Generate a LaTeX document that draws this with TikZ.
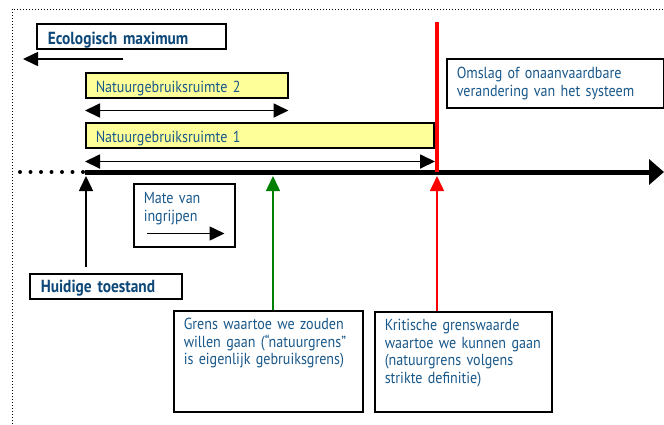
\documentclass[tikz,border=0pt]{standalone}
\usepackage{fontspec}
\setmainfont{PT Sans}[FakeStretch=0.88]
\usetikzlibrary{arrows.meta}

\definecolor{tekstblauw}{RGB}{25,88,138}
\definecolor{donkerblauw}{RGB}{14,72,120}
\definecolor{lichtgeel}{RGB}{255,255,153}
\definecolor{groen}{RGB}{0,128,0}

\tikzset{
  kader/.style={draw, line width=1.5pt, fill=white, anchor=north west,
    align=left, inner ysep=0pt, inner xsep=10pt, text=tekstblauw,
    font=\fontsize{16}{17.5}\selectfont},
  kop/.style={kader, text=donkerblauw, inner xsep=11pt,
    font=\fontsize{17.5}{19}\selectfont\bfseries},
  ruimte/.style={kader, fill=lichtgeel},
  pijl/.style={-{Triangle[length=15pt,width=14pt]}, line width=1.5pt},
  dubbel/.style={{Triangle[length=15pt,width=14pt]}-{Triangle[length=15pt,width=14pt]}, line width=1.8pt},
}

\begin{document}
\begin{tikzpicture}[x=1pt, y=-1pt]
    \useasboundingbox (0,0) rectangle (664,424);

    % Dotted frame, running off the page at right and bottom
    \draw[dotted, line width=1pt] (12,424) -- (12,9) -- (664,9);

    % Labels (text depth includes the extra lines below the first)
    \node[kop, text width=167pt, text height=21pt, text depth=4pt]
        (ecomax) at (36,23) {Ecologisch maximum};
    \node[ruimte, text width=182pt, text height=20pt, text depth=5pt]
        (ruimte2) at (85,72) {Natuurgebruiksruimte 2};
    \node[ruimte, text width=328pt, text height=20pt, text depth=5pt]
        (ruimte1) at (85,122) {Natuurgebruiksruimte 1};
    \node[kader, text width=197pt, text height=20pt, text depth=29pt]
        (omslag) at (446,58) {Omslag of onaanvaardbare\\verandering van het systeem};
    \node[kader, text width=81pt, text height=20pt, text depth=43pt]
        (mate) at (133,183) {Mate van\\ingrijpen};
    \node[kop, text width=130pt, text height=19pt, text depth=6pt]
        (huidig) at (29,273) {Huidige toestand};
    \node[kader, text width=169pt, text height=19pt, text depth=82pt]
        (grens) at (173,310) {Grens waartoe we zouden\\willen gaan (“natuurgrens”\\is eigenlijk gebruiksgrens)};
    \node[kader, text width=157pt, text height=19pt, text depth=81pt]
        (kritisch) at (374,311) {Kritische grenswaarde\\waartoe we kunnen gaan\\(natuurgrens volgens\\strikte definitie)};

    % Points on the axis
    \coordinate (asbegin)   at (85,172);
    \coordinate (aseind)    at (664,172);
    \coordinate (huidigpt)  at (86,172);
    \coordinate (grenspt)   at (273,172);
    \coordinate (kritpt)    at (437,172);
    \coordinate (omslagtop) at (437,22);
    \coordinate (ecostart)  at (123,59);
    \coordinate (ecoeind)   at (23,59);

    % Axis: dotted past the present state, solid towards the right
    \draw[line width=4pt, line cap=round, dash pattern=on 0pt off 10.5pt]
        (20,172) -- (asbegin);
    \draw[line width=5pt, -{Triangle[length=15pt,width=25pt]}] (asbegin) -- (aseind);

    % Ranges
    \draw[pijl] (ecostart) -- (ecoeind);
    \draw[dubbel] ([yshift=-12pt]ruimte2.south west) -- ([yshift=-12pt]ruimte2.south east);
    \draw[dubbel, shorten >=2pt] ([yshift=-13pt]ruimte1.south west)
        -- ([yshift=-13pt]ruimte1.south west -| kritpt);
    \draw[pijl] ([shift={(14,-14)}]mate.south west) -- ([shift={(-11,-14)}]mate.south east);

    % Tipping point
    \draw[red, line width=4pt] (omslagtop) -- (kritpt);

    % Pointers to the axis
    \draw[pijl, shorten <=6pt, shorten >=4pt] (huidig.north -| huidigpt) -- (huidigpt);
    \draw[pijl, groen, shorten >=4pt] (grens.north -| grenspt) -- (grenspt);
    \draw[pijl, red, shorten >=4pt] (kritisch.north -| kritpt) -- (kritpt);
\end{tikzpicture}
\end{document}
